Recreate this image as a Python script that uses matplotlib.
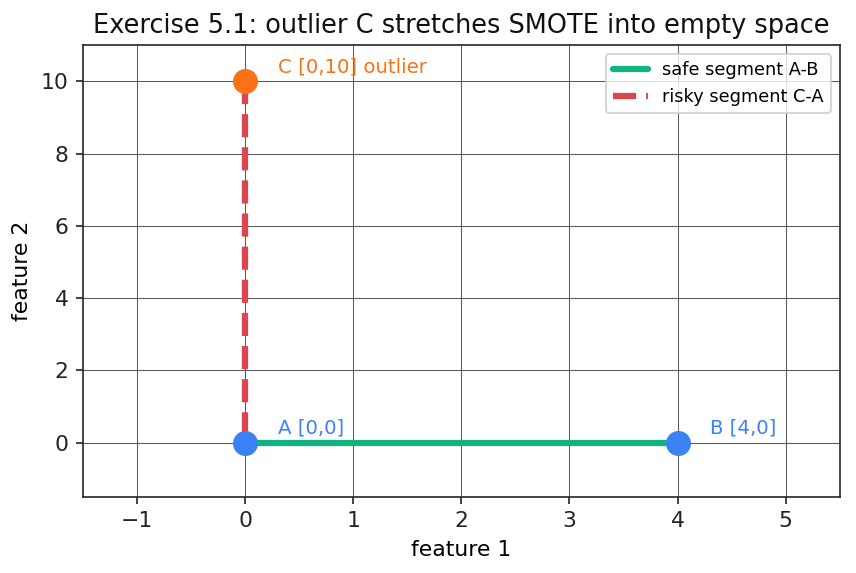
import numpy as np
import matplotlib.pyplot as plt
import seaborn as sns

# points
A = [0, 0]
B = [4, 0]
C = [0, 10]
labels = ["A [0,0]", "B [4,0]", "C [0,10] outlier"]

sns.set_style("ticks")
plt.rcParams['font.family'] = ['DejaVu Sans']
plt.rcParams.update({'font.size': 10, 'axes.labelsize': 10.5, 'xtick.labelsize': 10.5,
                     'ytick.labelsize': 10.5, 'text.color': 'black',
                     'xtick.color': '#222222', 'ytick.color': '#222222',
                     'axes.labelcolor': 'black'})

fig, ax = plt.subplots(figsize=(856/150, 573/150), dpi=150)

# segments
ax.plot([A[0], B[0]], [A[1], B[1]], color='#10b27f', lw=3, label='safe segment A-B', zorder=2)
ax.plot([C[0], A[0]], [C[1], A[1]], color='#dc474f', lw=3, ls='--', label='risky segment C-A', zorder=2)

# points
ax.plot(A[0], A[1], 'o', color='#3b82f6', ms=11, zorder=3)
ax.plot(B[0], B[1], 'o', color='#3b82f6', ms=11, zorder=3)
ax.plot(C[0], C[1], 'o', color='#f97316', ms=11, zorder=3)

ax.text(A[0] + 0.3, A[1] + 0.25, labels[0], color='#3b82f6', fontsize=9.5)
ax.text(B[0] + 0.3, B[1] + 0.25, labels[1], color='#3b82f6', fontsize=9.5)
ax.text(C[0] + 0.3, C[1] + 0.25, labels[2], color='#f97316', fontsize=9.5)

ax.set_xlim(-1.5, 5.5)
ax.set_ylim(-1.5, 11)
ax.set_xticks(range(-1, 6))
ax.set_yticks(range(0, 11, 2))
ax.grid(True, color='#5a5a5a', lw=0.5)
ax.set_xlabel("feature 1")
ax.set_ylabel("feature 2")
ax.set_title("Exercise 5.1: outlier C stretches SMOTE into empty space", fontsize=12.3, color='#111111')
ax.legend(loc='upper right', fontsize=8.5)

plt.subplots_adjust(left=0.097, right=0.981, top=0.921, bottom=0.133)
plt.savefig("out.png", dpi=150)
